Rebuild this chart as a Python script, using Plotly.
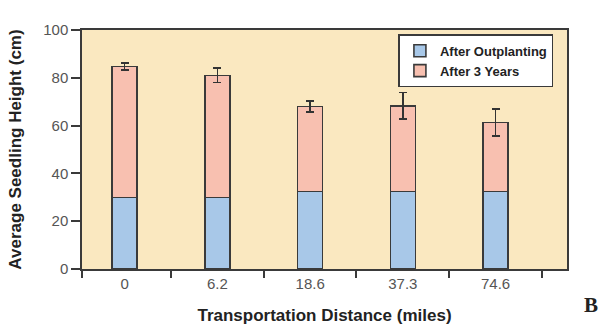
import plotly.graph_objects as go

categories = ["0", "6.2", "18.6", "37.3", "74.6"]
after_outplanting = [30, 30, 32.5, 32.5, 32.5]
total_after_3_years = [84.7, 81, 68, 68.3, 61.3]
error_3_years = [1.5, 3, 2.3, 5.6, 5.6]
y_ticks = [0, 20, 40, 60, 80, 100]

growth = [t - b for t, b in zip(total_after_3_years, after_outplanting)]
xpos = list(range(len(categories)))

edge = "#3a3a3a"
fig = go.Figure()
fig.add_trace(go.Bar(
    x=xpos, y=after_outplanting, name="After Outplanting",
    marker=dict(color="#A8C8E8", line=dict(color=edge, width=1.6)),
    width=0.27,
))
fig.add_trace(go.Bar(
    x=xpos, y=growth, name="After 3 Years",
    marker=dict(color="#F8C0B0", line=dict(color=edge, width=1.6)),
    width=0.27,
    error_y=dict(type="data", array=error_3_years, color="#333333", thickness=1.5, width=4),
))
# invisible trace for the separating tick marks axis
fig.add_trace(go.Scatter(x=[0], y=[0], xaxis="x2", mode="markers",
                         marker=dict(opacity=0), showlegend=False, hoverinfo="skip"))

font_fam = "Liberation Sans, Arial, sans-serif"
fig.update_layout(
    barmode="stack",
    width=607, height=328,
    margin=dict(l=82, r=40, t=30, b=59),
    paper_bgcolor="white",
    plot_bgcolor="#FAE8C0",
    font=dict(family=font_fam, color="#333333"),
    showlegend=True,
    legend=dict(
        x=0.972, y=0.982, xanchor="right", yanchor="top",
        bgcolor="white", bordercolor=edge, borderwidth=1.5,
        font=dict(size=13, family=font_fam, color="#222222", weight="bold"),
        traceorder="normal", itemwidth=30, tracegroupgap=0,
    ),
    xaxis=dict(
        range=[-0.46, 4.77], automargin=False,
        tickvals=xpos, ticktext=categories,
        ticks="", showgrid=False, zeroline=False,
        showline=True, linecolor=edge, linewidth=1.5, mirror=True,
        tickfont=dict(size=15, color="#555555"),
        title=dict(text="Transportation Distance (miles)",
                   font=dict(size=17, color="#222222", weight="bold"), standoff=18),
    ),
    xaxis2=dict(
        overlaying="x", matches="x", side="bottom", automargin=False,
        tickvals=[-0.455, 0.5, 1.5, 2.5, 3.5, 4.5],
        showticklabels=False, ticks="outside", ticklen=8, tickwidth=1.5, tickcolor=edge,
        showgrid=False, zeroline=False, showline=False,
    ),
    yaxis=dict(
        range=[0, 100], tickvals=y_ticks, automargin=False,
        ticks="outside", ticklen=9, tickwidth=1.5, tickcolor=edge,
        showgrid=False, zeroline=False,
        showline=True, linecolor=edge, linewidth=1.5, mirror=True,
        tickfont=dict(size=15, color="#555555"),
        title=dict(text="Average Seedling Height (cm)",
                   font=dict(size=17, color="#222222", weight="bold"), standoff=17),
    ),
    annotations=[dict(
        text="<b>B</b>", x=1.05, y=-0.15, xref="paper", yref="paper",
        xanchor="center", yanchor="middle",
        showarrow=False, font=dict(size=21, family="Liberation Serif, serif", color="#222222"),
    )],
)

fig.write_html("out.html", config={"displayModeBar": False},
               post_script="document.body.style.margin='0';")
